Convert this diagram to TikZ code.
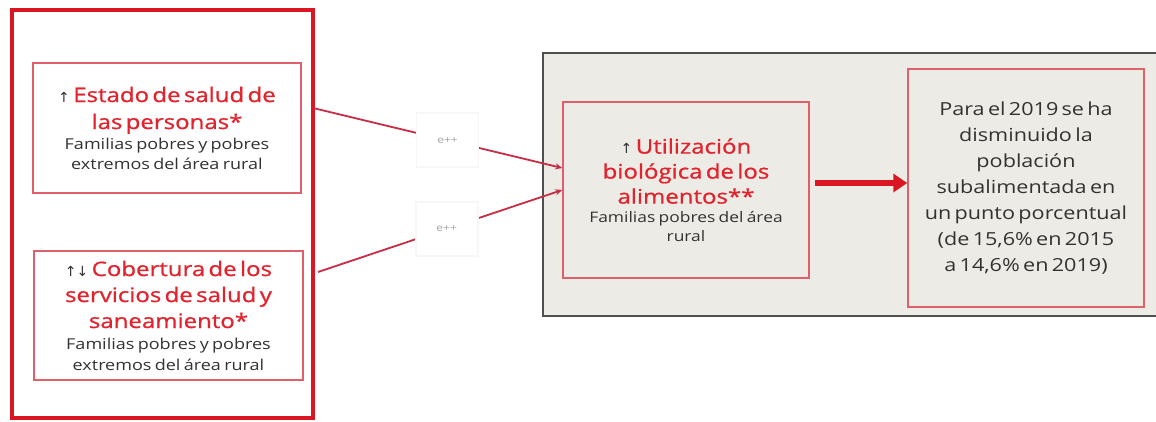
\documentclass[tikz,border=0pt]{standalone}
\usepackage{fontspec}
\setmainfont[FakeStretch=1.2]{Open Sans}
\newfontfamily\tfont[FakeStretch=1.2,FakeBold=0.8]{Open Sans}
\newfontfamily\symf{DejaVu Sans}
\usetikzlibrary{arrows.meta}
\definecolor{tred}{RGB}{226,34,44}
\definecolor{bred}{RGB}{222,96,104}
\definecolor{ored}{RGB}{218,22,34}
\definecolor{lred}{RGB}{200,45,70}
\definecolor{tgray}{RGB}{50,50,50}
\definecolor{pfill}{RGB}{237,235,229}
\definecolor{pdraw}{RGB}{80,80,80}
\newcommand{\upar}{{\symf\color{tgray}\fontsize{14}{14}\selectfont↑}}
\newcommand{\updn}{{\symf\color{tgray}\fontsize{14}{14}\selectfont↑↓}}
\begin{document}
\begin{tikzpicture}[x=1pt,y=-1pt,
  box/.style={draw=bred, line width=1.5pt, inner sep=0pt, align=center},
  conn/.style={draw=lred, line width=1.8pt, -{Stealth[length=7pt,width=6pt]}},
  elab/.style={fill=white, draw=gray!6, minimum width=62pt, minimum height=54pt, inner sep=0pt, text=gray!70, font=\fontsize{10}{11}\selectfont},
  bigarrow/.style={draw=ored, line width=6pt, -{Triangle[length=14pt,width=18pt]}}]
\useasboundingbox (0,0) rectangle (1156,422);
\fill[white] (0,0) rectangle (1156,422);
% left group
\node[draw=ored, line width=4pt, minimum width=301pt, minimum height=408pt, inner sep=0pt] (outer) at (162.5,214) {};
\node[box, minimum width=268pt, minimum height=130pt, text width=266pt] (b1) at (167,128)
 {{\tfont\color{tred}\fontsize{20}{27}\selectfont\upar{} Estado de salud de\\las personas*\par}
  {\color{tgray}\fontsize{15}{20}\selectfont Familias pobres y pobres\\extremos del área rural\par}};
\node[box, minimum width=269pt, minimum height=129pt, text width=267pt] (b2) at (168.5,315.5)
 {{\tfont\color{tred}\fontsize{20}{26}\selectfont\updn{} Cobertura de los\\servicios de salud y\\saneamiento*\par}
  {\color{tgray}\fontsize{15}{21}\selectfont Familias pobres y pobres\\extremos del área rural\par}};
% right panel
\node[draw=pdraw, fill=pfill, line width=2pt, minimum width=630pt, minimum height=263pt, inner sep=0pt] (panel) at (858,184.5) {};
\node[box, minimum width=246pt, minimum height=176pt, text width=244pt] (u) at (686,190)
 {{\tfont\color{tred}\fontsize{20}{25}\selectfont\upar{} Utilización\\biológica de los\\alimentos**\par}
  {\color{tgray}\fontsize{14.5}{19}\selectfont Familias pobres del área\\rural\par}};
\node[box, minimum width=236pt, minimum height=238pt, text width=234pt] (c) at (1026,188)
 {{\color{tgray}\fontsize{18}{26}\selectfont Para el 2019 se ha\\disminuido la\\población\\subalimentada en\\un punto porcentual\\(de 15,6\% en 2015\\a 14,6\% en 2019)\par}};
% connectors
\coordinate (s1) at (313,108);
\coordinate (s2) at (318,272);
\draw[conn] (s1) -- node[elab, pos=0.54] (e1) {e++} ([yshift=22pt]u.west);
\draw[conn] (s2) -- node[elab, pos=0.527] (e2) {e++} (u.west);
\draw[bigarrow, shorten <=5pt] ([yshift=7pt]u.east) -- ([yshift=7pt]u.east -| c.west);
\end{tikzpicture}
\end{document}
